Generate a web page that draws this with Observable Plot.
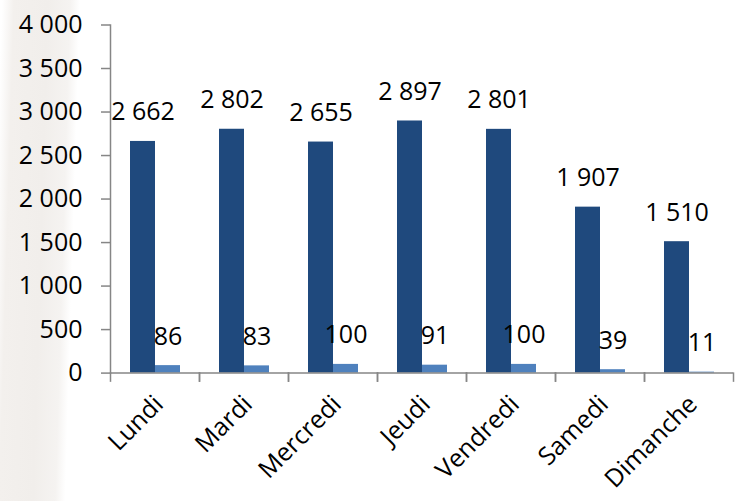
<!DOCTYPE html>
<html>
<head>
<meta charset="utf-8">
<script src="https://cdn.jsdelivr.net/npm/d3@7"></script>
<script src="https://cdn.jsdelivr.net/npm/@observablehq/plot@0.6"></script>
<style>
  html, body { margin: 0; padding: 0; background: #fff; }
  #chart {
    width: 743px; height: 501px;
    background: linear-gradient(91.7deg, #ffffff 2px, #f3f0ed 14px, #f1eeeb 48px, #f5f3f1 70px, #ffffff 80px);
  }
</style>
</head>
<body>
<div id="chart"></div>
<script>
const days = ["Lundi", "Mardi", "Mercredi", "Jeudi", "Vendredi", "Samedi", "Dimanche"];
const seriesNames = ["Série 1", "Série 2"];
const series1 = [2662, 2802, 2655, 2897, 2801, 1907, 1510];
const series2 = [86, 83, 100, 91, 100, 39, 11];
const yTicks = [0, 500, 1000, 1500, 2000, 2500, 3000, 3500, 4000];
const colors = ["#1F497D", "#4F81BD"];

const fmt = d3.formatLocale({decimal: ",", thousands: " ", grouping: [3], currency: ["", ""]}).format(",d");

const data = days.flatMap((d, i) => [
  {day: d, series: seriesNames[0], value: series1[i]},
  {day: d, series: seriesNames[1], value: series2[i]}
]);

const axisColor = "#868686";
const fs = 25;
const plotH = 501 - 24.5 - 128.4;

const chart = Plot.plot({
  width: 743,
  height: 501,
  marginTop: 24.5,
  marginBottom: 128.4,
  marginLeft: 109,
  marginRight: 9,
  style: {fontFamily: "'Open Sans', sans-serif", fontSize: fs + "px", background: "transparent", color: "#000"},
  fx: {domain: days, padding: 0, label: null},
  x: {domain: seriesNames, paddingInner: 0, paddingOuter: 0.75, axis: null},
  y: {domain: [0, 4000], axis: null},
  color: {domain: seriesNames, range: colors},
  marks: [
    Plot.barY(data, {fx: "day", x: "series", y: "value", fill: "series"}),
    Plot.text(data, {fx: "day", x: "series", y: "value", text: d => fmt(d.value), dy: -29, fontSize: fs, fill: "#000"}),
    Plot.ruleY([0], {stroke: axisColor, strokeWidth: 1.5}),
    Plot.frame({anchor: "left", stroke: axisColor, strokeWidth: 1.5, insetTop: plotH, insetBottom: -8}),
    Plot.frame({anchor: "right", stroke: axisColor, strokeWidth: 1.5, insetTop: plotH, insetBottom: -8}),
    Plot.frame({anchor: "left", facetAnchor: "left", stroke: axisColor, strokeWidth: 1.5}),
    Plot.axisY({ticks: yTicks, tickFormat: fmt, tickSize: 9, tickPadding: 19, stroke: axisColor, strokeWidth: 1.5, strokeOpacity: 1, label: null, fontSize: fs, fill: "#000"}),
    Plot.axisFx({anchor: "bottom", tickRotate: -45, tickSize: 0, tickPadding: 27, dx: 4, label: null, fontSize: fs, fill: "#000"})
  ]
});

document.getElementById("chart").appendChild(chart);
</script>
</body>
</html>
